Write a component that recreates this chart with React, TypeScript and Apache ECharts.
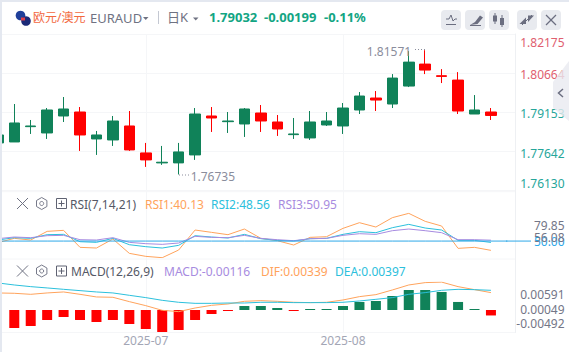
import React, { useEffect, useRef } from "react";
import * as echarts from "echarts";

const categories = Array.from({ length: 32 }, (_, i) => (i === 9 ? "2025-07" : i === 21 ? "2025-08" : `d${i}`));
const monthIndexes = [9, 21];

// [open, close, low, high]
const candles = [
  [1.77962, 1.78272, 1.77962, 1.78272],
  [1.78, 1.78739, 1.78, 1.79477],
  [1.78596, 1.78622, 1.78311, 1.78855],
  [1.7835, 1.79244, 1.78117, 1.79321],
  [1.79011, 1.79283, 1.78777, 1.79749],
  [1.79166, 1.78272, 1.77651, 1.7936],
  [1.78117, 1.78272, 1.77495, 1.78428],
  [1.78078, 1.78816, 1.77845, 1.79011],
  [1.78622, 1.7769, 1.77651, 1.79205],
  [1.77573, 1.77301, 1.77029, 1.77962],
  [1.77185, 1.77211, 1.77107, 1.77845],
  [1.77185, 1.77612, 1.76735, 1.77962],
  [1.77495, 1.79088, 1.77301, 1.79321],
  [1.79011, 1.78933, 1.78389, 1.7936],
  [1.7879, 1.78816, 1.7835, 1.79166],
  [1.787, 1.79283, 1.78195, 1.79321],
  [1.79127, 1.78816, 1.78389, 1.79438],
  [1.78777, 1.78505, 1.78234, 1.79049],
  [1.78285, 1.78311, 1.78117, 1.78933],
  [1.78156, 1.78777, 1.78078, 1.79205],
  [1.78661, 1.78816, 1.78622, 1.79166],
  [1.78622, 1.79321, 1.78311, 1.79516],
  [1.79244, 1.79788, 1.79088, 1.79943],
  [1.7971, 1.79632, 1.79205, 1.79982],
  [1.79477, 1.80487, 1.79321, 1.80642],
  [1.80176, 1.81108, 1.80137, 1.81536],
  [1.81031, 1.80798, 1.80642, 1.81571],
  [1.80578, 1.80552, 1.80293, 1.80836],
  [1.80409, 1.79205, 1.79088, 1.8072],
  [1.79088, 1.79244, 1.79088, 1.79826],
  [1.79166, 1.79032, 1.78855, 1.79321],
];

const rsi1 = [48.28, 52.89, 51.12, 60.33, 61.4, 43.32, 42.61, 52.18, 36.94, 33.75, 32.32, 40.48, 61.75, 59.27, 56.79, 62.82, 52.89, 50.41, 45.8, 53.95, 54.66, 63.52, 69.55, 64.94, 74.87, 79.48, 70.97, 66.01, 42.25, 43.32, 40.13];
const rsi2 = [51.12, 53.6, 52.89, 56.79, 57.14, 49.34, 48.64, 52.89, 46.15, 44.03, 42.61, 45.45, 55.73, 54.31, 53.24, 57.14, 52.53, 50.76, 50.05, 52.53, 52.89, 57.14, 59.98, 58.92, 64.23, 67.78, 63.88, 61.75, 50.76, 50.76, 48.56];
const rsi3 = [52.53, 54.31, 53.6, 55.73, 56.08, 51.47, 51.12, 53.6, 48.64, 47.22, 46.51, 47.93, 55.02, 53.95, 53.6, 56.08, 52.89, 51.47, 50.41, 52.53, 52.89, 56.08, 57.85, 57.14, 61.04, 62.82, 61.04, 58.92, 51.47, 51.47, 50.95];
const rsiMidLine = [50, 50, 50, 50, 50, 50, 50, 50, 50, 50, 50, 50, 50, 50, 50, 50, 50, 50, 50, 50, 50, 50, 50, 50, 50, 50, 50, 50, 50, 50, 50, 50];

const macdBars = [null, -0.00382, -0.00339, -0.00212, -0.00148, -0.00212, -0.00255, -0.00212, -0.00297, -0.00403, -0.00467, -0.00424, -0.00212, -0.00085, -0.00018, 0.00085, 0.00085, 0.00042, -0.00018, 0.0001, 0.0001, 0.00085, 0.0017, 0.00191, 0.00297, 0.00424, 0.00424, 0.00382, 0.0017, 0.00014, -0.00116];
const dif = [0.00361, 0.00354, 0.00332, 0.00361, 0.00382, 0.00332, 0.00276, 0.00269, 0.00177, 0.00092, -0.00007, -0.00035, 0.00042, 0.00099, 0.00127, 0.00184, 0.00198, 0.00184, 0.00163, 0.00156, 0.00163, 0.00212, 0.00283, 0.00325, 0.00424, 0.0053, 0.0058, 0.00591, 0.00495, 0.00431, 0.00368];
const dea = [0.00573, 0.0053, 0.00495, 0.00467, 0.00438, 0.0041, 0.00382, 0.00361, 0.00311, 0.00262, 0.00205, 0.00163, 0.00141, 0.00141, 0.00148, 0.00148, 0.00163, 0.00163, 0.00156, 0.00156, 0.00156, 0.00163, 0.00191, 0.00226, 0.00262, 0.00332, 0.00368, 0.00417, 0.00438, 0.00431, 0.00417];

const mainTicks = [1.7613, 1.77642, 1.79153, 1.80664, 1.82175];
const rsiTicks = [32.32, 50, 56.08, 79.85];
const macdTicks = [-0.00492, 0.00049, 0.00591];

const FONT = '"Noto Sans", "Noto Sans CJK SC", sans-serif';
const GREEN = "#108259";
const RED = "#ff0000";
const ORANGE = "#ffa35c";
const CYAN = "#2cc0dc";
const PURPLE = "#a78be0";
const BLUE = "#2fa8e8";
const GRID = "#f5f6f8";
const ICON = "#6b6e80";

const gridLeft = -10.375;
const gridWidth = 525.975;

const txt = (x: number, y: number, text: string, fill: string, fontSize = 12, fontWeight: any = "normal") => ({
  type: "text", x, y, z: 50,
  style: { text, fill, fontSize, fontWeight, fontFamily: FONT, verticalAlign: "middle", align: "left" },
});
const seg = (x1: number, y1: number, x2: number, y2: number, stroke = ICON, lineWidth = 1, lineDash?: number[]) => ({
  type: "line", z: 50, shape: { x1, y1, x2, y2 }, style: { stroke, lineWidth, lineDash },
});
const poly = (points: number[][], fill: string) => ({ type: "polygon", z: 50, shape: { points }, style: { fill } });
const btn = (x: number) => ({ type: "rect", z: 40, shape: { x, y: 10, width: 20, height: 20, r: 4 }, style: { fill: "#e8eaef" } });

const toolRow = (y: number) => {
  const c = 41.7;
  const r = 6;
  const hex = [[c, y - r], [c + 5.2, y - r / 2], [c + 5.2, y + r / 2], [c, y + r], [c - 5.2, y + r / 2], [c - 5.2, y - r / 2]];
  return [
    seg(17, y - 5.5, 28, y + 5.5, "#6f7282"),
    seg(28, y - 5.5, 17, y + 5.5, "#6f7282"),
    { type: "polygon", z: 50, shape: { points: hex }, style: { fill: "none", stroke: "#777a8a", lineWidth: 1 } },
    { type: "circle", z: 50, shape: { cx: c, cy: y, r: 2 }, style: { fill: "none", stroke: "#777a8a", lineWidth: 1 } },
    { type: "rect", z: 50, shape: { x: 56.5, y: y - 5, width: 10, height: 10 }, style: { fill: "none", stroke: "#5f6272", lineWidth: 1 } },
    seg(58.5, y, 64.5, y, "#5f6272"),
    seg(61.5, y - 3, 61.5, y + 3, "#5f6272"),
  ];
};

const richFor = (labels: { text: string; color: string; top?: number; bottom?: number }[]) => {
  const rich: any = {};
  labels.forEach((l, i) => {
    rich[`t${i}`] = { color: l.color, fontSize: 12, fontFamily: FONT, padding: [l.top || 0, 0, l.bottom || 0, 0] };
  });
  return rich;
};

const mainLabels = [
  { text: "1.76130", color: "#26a69a", bottom: 13 },
  { text: "1.77642", color: "#26a69a", top: 4 },
  { text: "1.79153", color: "#26a69a", top: 3 },
  { text: "1.80664", color: "#e0606f", top: 2 },
  { text: "1.82175", color: "#e0606f", top: 16 },
];
const rsiLabels = [
  { text: "32.32", color: "#737687", bottom: 12 },
  { text: "50.00", color: BLUE, top: 1 },
  { text: "56.08", color: "#737687", top: 5 },
  { text: "79.85", color: "#737687", top: 25 },
];
const macdLabels = [
  { text: "-0.00492", color: "#737687", bottom: 20 },
  { text: "0.00049", color: "#737687", top: 3 },
  { text: "0.00591", color: "#737687", top: 24 },
];

const yAxisFor = (gridIndex: number, ticks: number[], labels: any[], extra: any = {}) => ({
  type: "value",
  gridIndex,
  position: "right",
  min: ticks[0],
  max: ticks[ticks.length - 1],
  axisLine: { show: false },
  axisTick: { show: false, customValues: ticks },
  splitLine: { show: false },
  axisLabel: {
    show: true,
    customValues: ticks,
    align: "right",
    margin: 49,
    verticalAlign: "middle",
    formatter: (v: number) => {
      const i = ticks.findIndex((t) => Math.abs(t - v) < 1e-9);
      return i < 0 ? "" : `{t${i}|${labels[i].text}}`;
    },
    rich: richFor(labels),
  },
  ...extra,
});

const hiddenX = (gridIndex: number) => ({
  type: "category", gridIndex, data: categories,
  axisLine: { show: false }, axisTick: { show: false }, axisLabel: { show: false }, splitLine: { show: false },
});

const line = (name: string, data: number[], color: string, axis: number) => ({
  name, type: "line", data, xAxisIndex: axis, yAxisIndex: axis, symbol: "none",
  lineStyle: { color, width: 1 }, itemStyle: { color }, silent: true,
});

const graphics: any[] = [
  { type: "rect", z: 60, shape: { x: 0, y: 0, width: 569, height: 2 }, style: { fill: "#e4e8f0" } },
  { type: "rect", z: 60, shape: { x: 0, y: 0, width: 2, height: 352 }, style: { fill: "#e4e8f0" } },
  seg(2, 191.7, 515, 191.7, GRID),
  seg(2, 259, 515, 259, GRID),
  seg(2, 332.5, 515, 332.5, GRID),
  seg(506, 241.07, 531, 241.07, BLUE),

  { type: "circle", z: 50, shape: { cx: 20.5, cy: 15.5, r: 4.8 }, style: { fill: "#1f3f9a" } },
  { type: "circle", z: 51, shape: { cx: 26, cy: 21, r: 4.8 }, style: { fill: "#1c2a78" } },
  { type: "rect", z: 52, shape: { x: 21, y: 17.5, width: 4, height: 3 }, style: { fill: "#e0404a" } },

  txt(33, 17, "欧元/澳元", "#f2683e", 12),
  txt(90, 18, "EURAUD", "#6f7282", 13),
  poly([[143, 17], [148.5, 17], [145.75, 20]], "#6f7282"),
  seg(158.5, 11, 158.5, 24, "#c4c8d2"),
  txt(167, 17, "日K", "#6f7282", 13),
  poly([[193, 17.5], [198.5, 17.5], [195.75, 20.5]], "#6f7282"),
  txt(209, 17, "1.79032", "#12a583", 13, "bold"),
  txt(264, 17, "-0.00199", "#12a583", 13, "bold"),
  txt(324, 17, "-0.11%", "#12a583", 13, "bold"),

  btn(441), btn(465), btn(489), btn(517), btn(541),
  { type: "polyline", z: 50, shape: { points: [[446, 19], [449, 19], [451, 15], [453, 21], [455, 19], [457, 19]] }, style: { stroke: ICON, fill: "none", lineWidth: 1 } },
  seg(446, 24.5, 456, 24.5, ICON),
  poly([[475, 22], [480, 15.5], [483, 17.5], [477.5, 24], [470, 25]], ICON),
  seg(470, 25.5, 481, 25.5, ICON),
  seg(495, 13, 495, 24, ICON),
  { type: "rect", z: 50, shape: { x: 493, y: 15.5, width: 4, height: 6 }, style: { fill: ICON } },
  seg(502, 15, 502, 27, ICON),
  { type: "rect", z: 50, shape: { x: 500, y: 18, width: 4, height: 7 }, style: { fill: ICON } },
  seg(522, 25, 532, 15, ICON),
  poly([[526, 17.5], [526, 24], [519.5, 24]], ICON),
  poly([[528, 15.5], [534, 15.5], [528, 22]], ICON),
  seg(546, 15, 556, 25, ICON, 1.2),
  seg(556, 15, 546, 25, ICON, 1.2),

  ...toolRow(203.5),
  txt(70, 204, "RSI(7,14,21)", "#555866"),
  txt(145, 204, "RSI1:40.13", ORANGE),
  txt(211, 204, "RSI2:48.56", CYAN),
  txt(278, 204, "RSI3:50.95", PURPLE),

  ...toolRow(271),
  txt(71, 271.5, "MACD(12,26,9)", "#555866"),
  txt(164, 271.5, "MACD:-0.00116", PURPLE),
  txt(261, 271.5, "DIF:0.00339", ORANGE),
  txt(335, 271.5, "DEA:0.00397", CYAN),

  seg(415, 49.5, 425, 49.5, "#8a8d9c", 1, [1, 2]),
  seg(179, 175, 189, 175, "#8a8d9c", 1, [1, 2]),

  { ...poly([[553, 82], [569, 61], [569, 121], [553, 108]], "rgba(232,234,240,0.8)"), z: 60 },
  { type: "polyline", z: 61, shape: { points: [[563, 89], [558.5, 93], [563, 97]] }, style: { stroke: ICON, fill: "none", lineWidth: 1.5 } },
];

const gridBase = { left: gridLeft, width: gridWidth, outerBoundsMode: "none" };

const option: any = {
  animation: false,
  backgroundColor: "#ffffff",
  textStyle: { fontFamily: FONT },
  grid: [
    { ...gridBase, top: 34, height: 298.5 },
    { ...gridBase, top: 34.7, height: 155.3 },
    { ...gridBase, top: 213, height: 44.7 },
    { ...gridBase, top: 282.1, height: 51.1 },
  ],
  xAxis: [
    {
      type: "category",
      gridIndex: 0,
      data: categories,
      axisLine: { show: false },
      axisTick: { show: false },
      splitLine: {
        show: true,
        alignWithLabel: true,
        interval: (i: number) => monthIndexes.includes(i),
        lineStyle: { color: GRID, width: 1 },
      },
      axisLabel: {
        show: true,
        margin: 2,
        color: "#a3a6b5",
        fontSize: 12,
        fontFamily: FONT,
        interval: (i: number) => monthIndexes.includes(i),
      },
    },
    hiddenX(1),
    hiddenX(2),
    hiddenX(3),
  ],
  yAxis: [
    {
      type: "value", gridIndex: 0, position: "right", min: 0, max: 1,
      axisLine: { show: true, onZero: false, lineStyle: { color: "#eef0f3" } },
      axisTick: { show: false }, axisLabel: { show: false }, splitLine: { show: false },
    },
    yAxisFor(1, mainTicks, mainLabels, { splitLine: { show: true, lineStyle: { color: GRID } } }),
    yAxisFor(2, rsiTicks, rsiLabels),
    yAxisFor(3, macdTicks, macdLabels),
  ],
  series: [
    {
      type: "candlestick",
      xAxisIndex: 1,
      yAxisIndex: 1,
      data: candles,
      barWidth: 11,
      itemStyle: { color: GREEN, color0: RED, borderColor: GREEN, borderColor0: RED, borderWidth: 1 },
      silent: true,
      markPoint: {
        symbol: "circle",
        symbolSize: 0,
        silent: true,
        data: [
          { coord: [26, 1.81571], value: "1.81571", label: { position: "left", offset: [-9, 1], formatter: "1.81571" } },
          { coord: [11, 1.76735], value: "1.76735", label: { position: "right", offset: [7, 2.5], formatter: "1.76735" } },
        ],
        label: { color: "#8a8d9c", fontSize: 12, fontFamily: FONT },
      },
    },
    line("RSI1", rsi1, ORANGE, 2),
    line("RSI2", rsi2, CYAN, 2),
    line("RSI3", rsi3, PURPLE, 2),
    { ...line("RSI mid", rsiMidLine, BLUE, 2), z: 5 },
    {
      name: "MACD", type: "bar", xAxisIndex: 3, yAxisIndex: 3, barWidth: 10, barMinHeight: 1, silent: true,
      data: macdBars,
      itemStyle: { color: (p: any) => (p.value < 0 ? RED : GREEN) },
    },
    line("DIF", dif, ORANGE, 3),
    line("DEA", dea, CYAN, 3),
  ],
  graphic: graphics,
};

export default function App() {
  const ref = useRef<HTMLDivElement>(null);
  useEffect(() => {
    document.body.style.margin = "0";
    const chart = echarts.init(ref.current!, undefined, { renderer: "svg" });
    chart.setOption(option);
    return () => chart.dispose();
  }, []);
  return <div ref={ref} style={{ width: 569, height: 352 }} />;
}
